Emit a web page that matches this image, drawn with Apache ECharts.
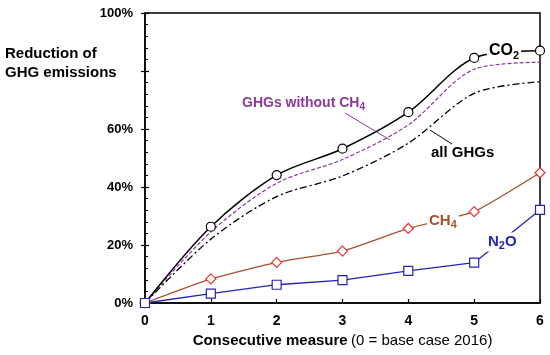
<!DOCTYPE html>
<html>
<head>
<meta charset="utf-8">
<script src="https://cdn.jsdelivr.net/npm/echarts@6/dist/echarts.min.js"></script>
<style>
html,body{margin:0;padding:0;background:#fff;}
#c{width:550px;height:355px;}
</style>
</head>
<body>
<div id="c"></div>
<script>
var measures = [0, 1, 2, 3, 4, 5, 6];
var co2 = [0, 26.3, 44.1, 53.2, 65.8, 84.5, 87.0];
var ghgNoCh4 = [0, 24.5, 41.3, 49.5, 61.4, 80.6, 83.0];
var allGhg = [0, 22.0, 36.7, 43.8, 55.1, 72.3, 76.3];
var ch4 = [0, 8.3, 14.0, 17.9, 25.7, 31.5, 44.9];
var n2o = [0, 3.2, 6.3, 7.9, 11.1, 13.9, 32.1];
var yTicks = [0, 20, 40, 60, 80, 100];
var yTickHidden = [80];

function pairs(v) { return measures.map(function (x, i) { return [x, v[i]]; }); }

var FONT = 'Liberation Sans, Arial, Helvetica, sans-serif';
var PURPLE = '#8a3c98', BROWN = '#a8512c', RED = '#e2383c', BLUE = '#2424b4';

function subLabel(main, sub, tail, color, size, bg) {
  return {
    text: '{a|' + main + '}{s|' + sub + '}' + (tail ? '{a|' + tail + '}' : ''),
    rich: {
      a: { fontSize: size, fontWeight: 'bold', fontFamily: FONT, fill: color, lineHeight: size + 4 },
      s: { fontSize: Math.round(size * 0.7), fontWeight: 'bold', fontFamily: FONT, fill: color, lineHeight: Math.round(size * 0.7), verticalAlign: 'bottom' }
    },
    backgroundColor: bg ? '#fff' : null,
    padding: bg ? [0, 2] : 0,
    align: 'left',
    verticalAlign: 'middle'
  };
}

var chart = echarts.init(document.getElementById('c'), null, { renderer: 'canvas' });
chart.setOption({
  animation: false,
  backgroundColor: '#fff',
  textStyle: { fontFamily: FONT },
  grid: { left: 145, right: 10, top: 13, bottom: 52, show: true, borderColor: '#000', borderWidth: 1.5, backgroundColor: 'transparent' },
  xAxis: {
    type: 'value', min: 0, max: 6, interval: 1,
    axisLine: { lineStyle: { color: '#000', width: 1.5 } },
    axisTick: { inside: true, length: 4, lineStyle: { color: '#000', width: 1.2 } },
    splitLine: { show: false },
    axisLabel: { color: '#000', fontWeight: 'bold', fontSize: 14, fontFamily: FONT, margin: 11 },
    name: '{b|Consecutive measure} {n|(0 = base case 2016)}',
    nameLocation: 'middle', nameGap: 30,
    nameTextStyle: {
      rich: {
        b: { fontSize: 15, fontWeight: 'bold', color: '#000', fontFamily: FONT },
        n: { fontSize: 15, color: '#000', fontFamily: FONT }
      }
    }
  },
  yAxis: [{
    type: 'value', min: 0, max: 100, interval: 20,
    axisLine: { show: true, lineStyle: { color: '#000', width: 1.5 } },
    axisTick: { show: true, inside: true, length: 4, lineStyle: { color: '#000', width: 1.2 } },
    minorTick: { show: true, splitNumber: 5, length: 3, lineStyle: { color: '#000', width: 1 } },
    splitLine: { show: false },
    axisLabel: {
      color: '#000', fontWeight: 'bold', fontSize: 13, fontFamily: FONT, margin: 12,
      formatter: function (v) { return yTickHidden.indexOf(v) >= 0 ? '' : v + '%'; }
    }
  }, {
    type: 'value', min: 0, max: 100, interval: 20, position: 'left',
    axisLine: { show: false },
    axisTick: { show: true, inside: false, length: 4, lineStyle: { color: '#000', width: 1.2 } },
    axisLabel: { show: false },
    splitLine: { show: false }
  }],
  series: [{
    name: 'all GHGs', type: 'line', data: pairs(allGhg), smooth: 0.3, symbol: 'none',
    lineStyle: { color: '#000', width: 1.3, type: [7, 3, 2, 3] }, z: 2
  }, {
    name: 'GHGs without CH4', type: 'line', data: pairs(ghgNoCh4), smooth: 0.3, symbol: 'none',
    lineStyle: { color: PURPLE, width: 1.2, type: [4, 2] }, z: 2
  }, {
    name: 'CO2', type: 'line', data: pairs(co2), smooth: 0.3, symbol: 'circle', symbolSize: 9,
    itemStyle: { color: '#fff', borderColor: '#000', borderWidth: 1.2 },
    lineStyle: { color: '#000', width: 1.5 }, z: 3
  }, {
    name: 'CH4', type: 'line', data: pairs(ch4), smooth: 0.15, symbol: 'diamond', symbolSize: 10,
    itemStyle: { color: '#fff', borderColor: RED, borderWidth: 1.2 },
    lineStyle: { color: BROWN, width: 1.3 }, z: 3
  }, {
    name: 'N2O', type: 'line', data: pairs(n2o), smooth: false, symbol: 'rect', symbolSize: 9,
    itemStyle: { color: '#fff', borderColor: BLUE, borderWidth: 1.2 },
    lineStyle: { color: BLUE, width: 1.3 }, z: 3
  }],
  graphic: [
    { type: 'text', left: 5, top: 44, style: { text: 'Reduction of\nGHG emissions', fontSize: 15, fontWeight: 'bold', fontFamily: FONT, fill: '#000', lineHeight: 19 } },
    { type: 'line', z: 10, shape: { x1: 345, y1: 113, x2: 390, y2: 140 }, style: { stroke: PURPLE, lineWidth: 1 } },
    { type: 'line', z: 10, shape: { x1: 430, y1: 130, x2: 452, y2: 144 }, style: { stroke: '#000', lineWidth: 1 } },
    { type: 'text', z: 20, x: 242, y: 103, style: subLabel('GHGs without CH', '4', '', PURPLE, 14, false) },
    { type: 'text', z: 20, x: 431, y: 153, style: subLabel('all GHGs', '', '', '#000', 15, false) },
    { type: 'text', z: 20, x: 487, y: 51, style: subLabel('CO', '2', '', '#000', 16, true) },
    { type: 'text', z: 20, x: 427, y: 221, style: subLabel('CH', '4', '', BROWN, 15, true) },
    { type: 'text', z: 20, x: 486, y: 242, style: subLabel('N', '2', 'O', BLUE, 15, true) }
  ]
});
</script>
</body>
</html>
